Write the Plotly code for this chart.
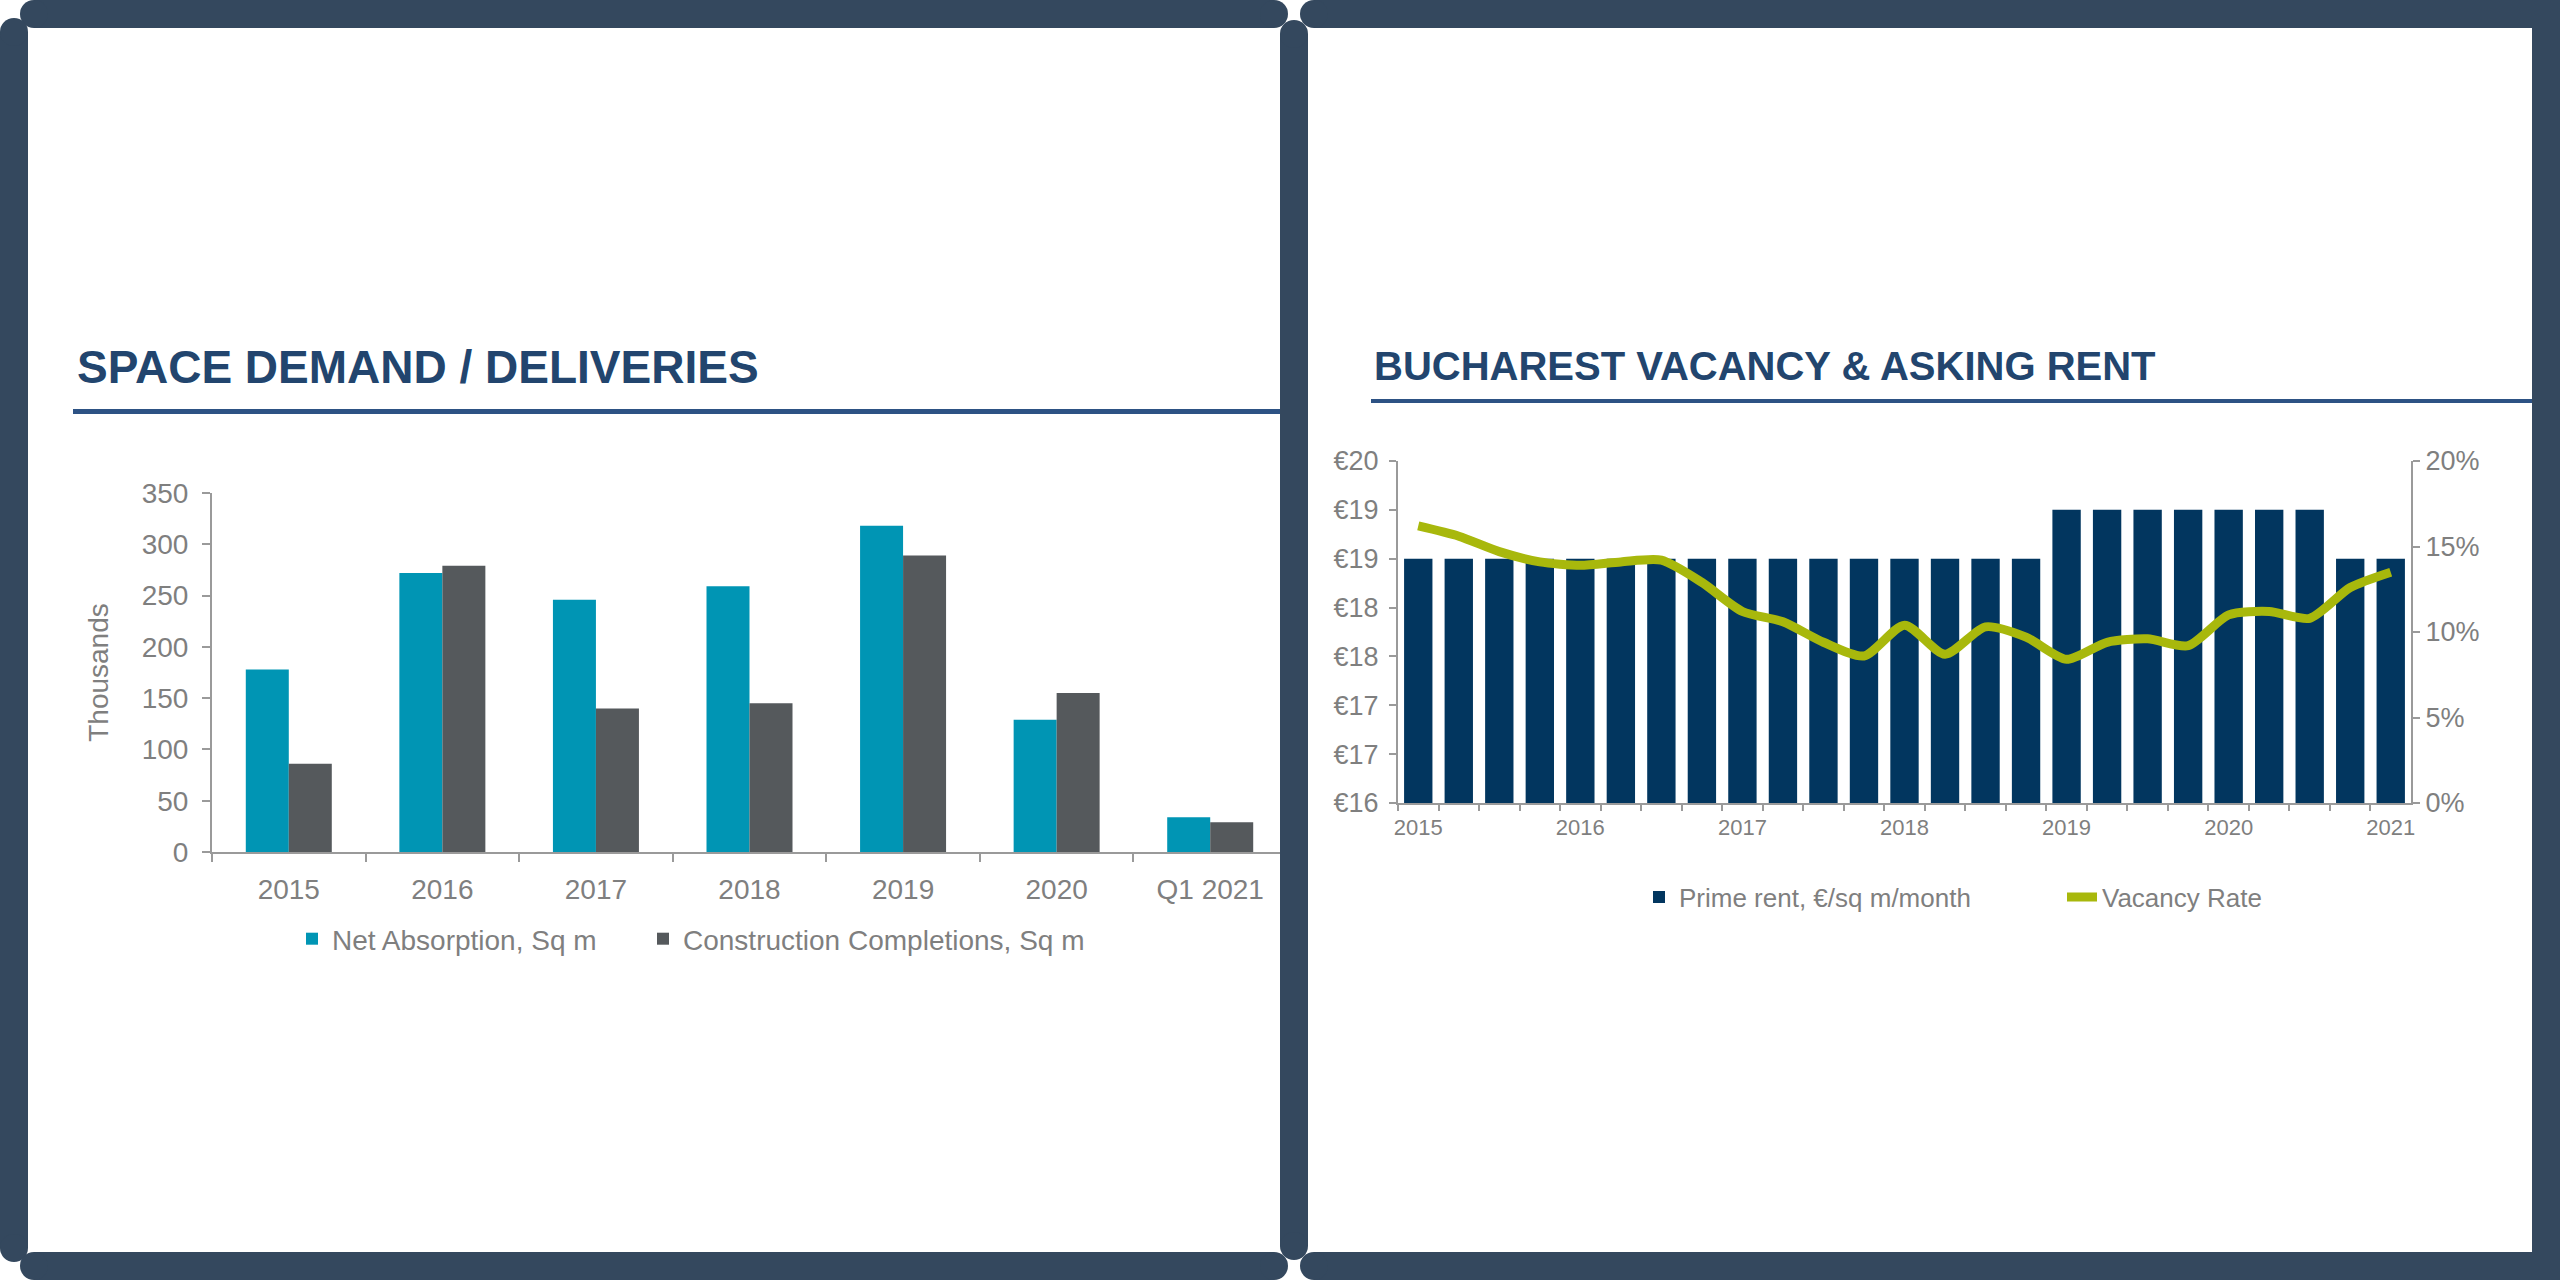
import plotly.graph_objects as go

W, H = 2560, 1280

# ---------------- data: left chart ----------------
DEMAND_CATEGORIES = ["2015", "2016", "2017", "2018", "2019", "2020", "Q1 2021"]
NET_ABSORPTION = [178, 272, 246, 259, 318, 129, 34]          # thousands sq m
CONSTRUCTION_COMPLETIONS = [86, 279, 140, 145, 289, 155, 29]  # thousands sq m
DEMAND_TICKS = [0, 50, 100, 150, 200, 250, 300, 350]

# ---------------- data: right chart ----------------
QUARTERS = [
    "Q1 2015", "Q2 2015", "Q3 2015", "Q4 2015",
    "Q1 2016", "Q2 2016", "Q3 2016", "Q4 2016",
    "Q1 2017", "Q2 2017", "Q3 2017", "Q4 2017",
    "Q1 2018", "Q2 2018", "Q3 2018", "Q4 2018",
    "Q1 2019", "Q2 2019", "Q3 2019", "Q4 2019",
    "Q1 2020", "Q2 2020", "Q3 2020", "Q4 2020",
    "Q1 2021",
]
QUARTER_LABELS = [
    "2015", "", "", "",
    "2016", "", "", "",
    "2017", "", "", "",
    "2018", "", "", "",
    "2019", "", "", "",
    "2020", "", "", "",
    "2021",
]
PRIME_RENT = [
    18.5, 18.5, 18.5, 18.5,
    18.5, 18.5, 18.5, 18.5,
    18.5, 18.5, 18.5, 18.5,
    18.5, 18.5, 18.5, 18.5,
    19.0, 19.0, 19.0, 19.0,
    19.0, 19.0, 19.0, 18.5,
    18.5,
]
VACANCY_RATE = [
    0.162, 0.156, 0.147, 0.141,
    0.139, 0.141, 0.142, 0.129,
    0.112, 0.106, 0.094, 0.086,
    0.104, 0.087, 0.103, 0.097,
    0.084, 0.094, 0.096, 0.092,
    0.110, 0.112, 0.108, 0.126,
    0.135,
]
RENT_TICKS = [16, 16.5, 17, 17.5, 18, 18.5, 19, 19.5]
RENT_TICK_LABELS = ["€16", "€17", "€17", "€18", "€18", "€19", "€19", "€20"]
VACANCY_TICKS = [0, 0.05, 0.10, 0.15, 0.20]
VACANCY_TICK_LABELS = ["0%", "5%", "10%", "15%", "20%"]

# ---------------- styling ----------------
FONT = "Liberation Sans, Arial, sans-serif"
GREY_TXT = "#7F7F7F"
AXIS_GREY = "#9A9A9A"
TEAL = "#0095B4"
DARK_GREY = "#55595C"
NAVY = "#02365F"
LIME = "#A8B80C"
TITLE_BLUE = "#22456E"
RULE_BLUE = "#2D5284"
FRAME = "#34485E"


def fx(p):
    return p / W


def fy(p):
    return 1 - p / H


fig = go.Figure()

# left chart bars
fig.add_trace(go.Bar(
    x=DEMAND_CATEGORIES, y=NET_ABSORPTION, name="Net Absorption, Sq m",
    marker=dict(color=TEAL, line_width=0), xaxis="x", yaxis="y", legend="legend",
))
fig.add_trace(go.Bar(
    x=DEMAND_CATEGORIES, y=CONSTRUCTION_COMPLETIONS, name="Construction Completions, Sq m",
    marker=dict(color=DARK_GREY, line_width=0), xaxis="x", yaxis="y", legend="legend2",
))

# right chart
fig.add_trace(go.Bar(
    x=QUARTERS, y=PRIME_RENT, name="Prime rent, €/sq m/month", width=0.7,
    marker=dict(color=NAVY, line_width=0), xaxis="x2", yaxis="y2", legend="legend3",
))
fig.add_trace(go.Scatter(
    x=QUARTERS, y=VACANCY_RATE, name="Vacancy Rate", mode="lines",
    line=dict(color=LIME, width=9, shape="spline", smoothing=0.7),
    xaxis="x2", yaxis="y3", legend="legend4",
))

tickfont_l = dict(family=FONT, size=28, color=GREY_TXT)
tickfont_rx = dict(family=FONT, size=22, color=GREY_TXT)
tickfont_ry = dict(family=FONT, size=27, color=GREY_TXT)

common_axis = dict(showgrid=False, zeroline=False, showline=True, linecolor=AXIS_GREY,
                   linewidth=2, ticks="outside", tickcolor=AXIS_GREY, tickwidth=2,
                   automargin=False, fixedrange=True)

legend_common = dict(xanchor="left", yanchor="middle", orientation="h", bgcolor="rgba(0,0,0,0)")

fig.update_layout(
    width=W, height=H,
    margin=dict(l=0, r=0, t=0, b=0),
    paper_bgcolor="white", plot_bgcolor="white",
    font=dict(family=FONT, color=GREY_TXT),
    barmode="group", bargap=0.44, bargroupgap=0,
    xaxis=dict(domain=[fx(212), fx(1287)], anchor="y", type="category",
               tickson="boundaries", ticklen=8, tickfont=tickfont_l, tickangle=0,
               ticklabelstandoff=11, **common_axis),
    yaxis=dict(domain=[fy(852), fy(493)], anchor="x", range=[0, 350],
               tickvals=DEMAND_TICKS, ticklen=8, tickfont=tickfont_l, ticklabelstandoff=8,
               title=dict(text="Thousands", font=dict(family=FONT, size=28, color=GREY_TXT), standoff=25),
               **common_axis),
    xaxis2=dict(domain=[fx(1398), fx(2411)], anchor="y2", type="category",
                tickvals=QUARTERS, ticktext=QUARTER_LABELS, tickangle=0,
                tickson="boundaries", ticklen=6, tickfont=tickfont_rx, ticklabelstandoff=4,
                **common_axis),
    yaxis2=dict(domain=[fy(803), fy(461)], anchor="x2", range=[16, 19.5],
                tickvals=RENT_TICKS, ticktext=RENT_TICK_LABELS, ticklen=7,
                tickfont=tickfont_ry, ticklabelstandoff=5, **common_axis),
    yaxis3=dict(overlaying="y2", anchor="x2", side="right", range=[0, 0.2],
                tickvals=VACANCY_TICKS, ticktext=VACANCY_TICK_LABELS, ticklen=7,
                tickfont=tickfont_ry, **common_axis),
    legend=dict(x=fx(292), y=fy(939), font=dict(family=FONT, size=28, color=GREY_TXT), **legend_common),
    legend2=dict(x=fx(643), y=fy(939), font=dict(family=FONT, size=28, color=GREY_TXT), **legend_common),
    legend3=dict(x=fx(1639), y=fy(897), font=dict(family=FONT, size=26, color=GREY_TXT), **legend_common),
    legend4=dict(x=fx(2062), y=fy(897), font=dict(family=FONT, size=26, color=GREY_TXT), **legend_common),
    showlegend=True,
)

# titles
fig.add_annotation(x=fx(75), y=fy(367), xref="paper", yref="paper", xanchor="left", yanchor="middle",
                   text="<b>SPACE DEMAND / DELIVERIES</b>", showarrow=False,
                   font=dict(family=FONT, size=46, color=TITLE_BLUE))
fig.add_annotation(x=fx(1372), y=fy(366), xref="paper", yref="paper", xanchor="left", yanchor="middle",
                   text="<b>BUCHAREST VACANCY &amp; ASKING RENT</b>", showarrow=False,
                   font=dict(family=FONT, size=40, color=TITLE_BLUE))

shapes = []


def rect(x0, y0, x1, y1, color):
    shapes.append(dict(type="rect", xref="paper", yref="paper", x0=fx(x0), x1=fx(x1),
                       y0=fy(y1), y1=fy(y0), fillcolor=color, line_width=0, layer="above"))


def circ(cx, cy, r, color):
    shapes.append(dict(type="circle", xref="paper", yref="paper", x0=fx(cx - r), x1=fx(cx + r),
                       y0=fy(cy + r), y1=fy(cy - r), fillcolor=color, line_width=0, layer="above"))


# title rules
rect(73, 409, 1280, 414, RULE_BLUE)
rect(1371, 399, 2532, 403, RULE_BLUE)

# frame
rect(34, 0, 1274, 28, FRAME); circ(34, 14, 14, FRAME); circ(1274, 14, 14, FRAME)
rect(1314, 0, 2560, 28, FRAME); circ(1314, 14, 14, FRAME)
rect(0, 32, 28, 1248, FRAME); circ(14, 32, 14, FRAME); circ(14, 1248, 14, FRAME)
rect(34, 1252, 1274, 1280, FRAME); circ(34, 1266, 14, FRAME); circ(1274, 1266, 14, FRAME)
rect(1280, 34, 1308, 1246, FRAME); circ(1294, 34, 14, FRAME); circ(1294, 1246, 14, FRAME)
rect(1314, 1252, 2560, 1280, FRAME); circ(1314, 1266, 14, FRAME)
rect(2532, 0, 2560, 1280, FRAME)

fig.update_layout(shapes=shapes)

fig.write_html("out.html", config={"displayModeBar": False},
               post_script="document.body.style.margin='0px';document.body.style.overflow='hidden';")
